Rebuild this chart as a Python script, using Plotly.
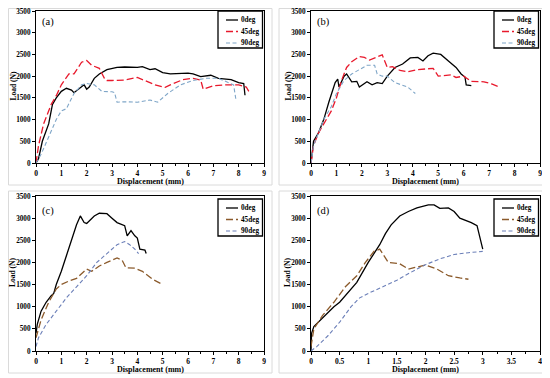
import plotly.graph_objects as go

# ---------------- data ----------------
# Panel (a)
a0_x = [0, 0.1, 0.25, 0.5, 0.6, 0.65, 0.8, 1.0, 1.2, 1.4, 1.5, 1.7, 1.9, 2.0, 2.1, 2.3, 2.5, 2.8, 3.0, 3.2, 3.5, 3.8, 4.0, 4.2, 4.5, 4.7, 5.0, 5.3, 6.0, 6.2, 6.5, 6.9, 7.2, 7.7, 8.0, 8.2, 8.25]
a0_y = [0, 100, 500, 900, 1200, 1350, 1500, 1650, 1720, 1680, 1620, 1700, 1800, 1700, 1750, 1950, 2050, 2150, 2170, 2200, 2210, 2200, 2200, 2220, 2150, 2170, 2080, 2050, 2070, 2050, 1990, 2020, 1950, 1920, 1850, 1830, 1560]
a45_x = [0, 0.1, 0.3, 0.5, 0.6, 0.8, 1.0, 1.3, 1.5, 1.8, 2.0, 2.2, 2.5, 2.7, 2.8, 3.0, 3.5, 4.0, 4.3, 4.7, 5.1, 5.3, 5.8, 6.2, 6.5, 6.6, 7.0, 7.5, 8.0, 8.3, 8.4]
a45_y = [0, 400, 900, 1200, 1350, 1550, 1800, 2050, 2050, 2320, 2360, 2250, 2180, 1950, 1900, 1900, 1910, 1970, 1900, 1800, 1740, 1800, 1920, 1950, 1910, 1700, 1780, 1800, 1800, 1750, 1650]
a90_x = [0, 0.2, 0.5, 0.8, 1.0, 1.2, 1.5, 1.8, 2.0, 2.3, 2.6, 3.0, 3.1, 3.2, 3.5, 4.0, 4.5, 4.8, 5.2, 5.7, 6.2, 6.7, 7.2, 7.8, 7.9]
a90_y = [0, 200, 600, 1000, 1200, 1250, 1600, 1800, 1830, 1800, 1650, 1640, 1620, 1400, 1410, 1400, 1450, 1400, 1600, 1800, 1900, 1950, 1950, 1800, 1430]

# Panel (b)
b0_x = [0, 0.1, 0.3, 0.5, 0.7, 0.8, 0.95, 1.05, 1.1, 1.3, 1.4, 1.6, 1.8, 1.9, 2.2, 2.4, 2.6, 2.8, 3.0, 3.3, 3.6, 3.9, 4.2, 4.4, 4.6, 4.8, 5.1, 5.4, 5.7, 5.9, 6.05, 6.1, 6.3]
b0_y = [0, 500, 700, 1000, 1400, 1600, 1850, 1930, 1750, 2000, 2050, 1870, 1880, 1750, 1870, 1800, 1850, 1830, 2000, 2200, 2280, 2420, 2430, 2350, 2470, 2530, 2500, 2350, 2200, 2050, 1980, 1800, 1780]
b45_x = [0, 0.1, 0.3, 0.6, 0.8, 1.0, 1.2, 1.4, 1.6, 1.9, 2.1, 2.3, 2.6, 2.8, 3.0, 3.2, 3.5, 3.8, 4.2, 4.6, 4.8, 5.0, 5.5, 5.7, 6.0, 6.3, 6.8, 7.1, 7.4]
b45_y = [0, 400, 700, 1000, 1200, 1500, 1900, 2200, 2330, 2450, 2430, 2370, 2450, 2490, 2200, 2220, 2130, 2100, 2150, 2170, 2180, 2000, 2030, 1970, 2000, 1880, 1870, 1820, 1750]
b90_x = [0, 0.1, 0.3, 0.5, 0.8, 1.0, 1.3, 1.6, 1.9, 2.2, 2.5, 2.6, 2.8, 3.0, 3.3, 3.8, 4.1]
b90_y = [0, 400, 700, 1000, 1300, 1600, 1900, 2050, 2150, 2250, 2250, 2050, 2000, 2000, 1850, 1750, 1600]

# Panel (c)
c0_x = [0, 0.05, 0.2, 0.4, 0.6, 0.7, 0.8, 1.0, 1.2, 1.4, 1.6, 1.75, 1.9, 2.0, 2.3, 2.5, 2.8, 3.0, 3.2, 3.5, 3.6, 3.75, 3.9, 4.0, 4.1, 4.3, 4.35]
c0_y = [400, 600, 900, 1100, 1250, 1300, 1500, 1800, 2150, 2500, 2850, 3050, 2900, 2880, 3050, 3110, 3100, 3000, 2900, 2830, 2600, 2720, 2600, 2550, 2300, 2280, 2200]
c45_x = [0, 0.2, 0.5, 0.8, 1.0, 1.3, 1.6, 1.8, 2.0, 2.2, 2.5, 2.8, 3.0, 3.2, 3.4, 3.55, 3.9, 4.2, 4.6, 5.0]
c45_y = [300, 700, 1100, 1400, 1500, 1580, 1640, 1750, 1850, 1800, 1920, 2000, 2050, 2100, 2050, 1880, 1870, 1800, 1620, 1500]
c90_x = [0, 0.1, 0.4, 0.8, 1.2, 1.6, 2.0, 2.4, 2.8, 3.2, 3.5, 3.7, 3.9, 4.05]
c90_y = [100, 300, 600, 900, 1200, 1450, 1700, 2000, 2200, 2400, 2470, 2400, 2300, 2200]

# Panel (d)
d0_x = [0, 0.01, 0.05, 0.2, 0.4, 0.5, 0.6, 0.8, 1.0, 1.1, 1.2, 1.3, 1.4, 1.55, 1.7, 1.85, 2.05, 2.15, 2.25, 2.4, 2.5, 2.6, 2.8, 2.9, 3.0]
d0_y = [0, 400, 550, 750, 1000, 1100, 1250, 1550, 2000, 2200, 2400, 2650, 2850, 3050, 3150, 3230, 3300, 3300, 3220, 3230, 3150, 3000, 2900, 2830, 2300]
d45_x = [0, 0.05, 0.2, 0.4, 0.6, 0.8, 0.95, 1.1, 1.2, 1.35, 1.55, 1.7, 1.8, 2.0, 2.2, 2.4, 2.6, 2.75]
d45_y = [100, 500, 800, 1100, 1450, 1700, 2000, 2250, 2300, 2000, 1970, 1850, 1880, 1940, 1850, 1700, 1650, 1620]
d90_x = [0, 0.1, 0.3, 0.5, 0.7, 0.85, 1.0, 1.25, 1.5, 1.75, 2.0, 2.25, 2.5, 2.75, 3.0]
d90_y = [0, 100, 350, 650, 1000, 1200, 1300, 1450, 1600, 1780, 1950, 2080, 2180, 2220, 2250]

series_names = ["0deg", "45deg", "90deg"]
panel_labels = ["(a)", "(b)", "(c)", "(d)"]
y_ticks = [0, 500, 1000, 1500, 2000, 2500, 3000, 3500]
x_ticks_wide = [0, 1, 2, 3, 4, 5, 6, 7, 8, 9]
x_ticks_d = [0, 0.5, 1, 1.5, 2, 2.5, 3, 3.5, 4]
x_title = "Displacement (mm)"
y_title = "Load (N)"

# ---------------- styling / layout helpers ----------------
FONT = "Liberation Serif"
BLACK = "#000000"
RED = "#E8192C"
LBLUE = "#7FA6C8"
BROWN = "#8B5A2B"
SBLUE = "#6B7FB8"

# the page body has an 8px default margin; the figure is sized to fit the window
OFF = 8
W, H = 550 - OFF, 378 - OFF


def fx(p):
    return (p - OFF) / W


def fy(p):
    return 1 - (p - OFF) / H


# plot-area boxes in window pixels: (left, top, right, bottom)
boxes = [(36, 11, 264, 163), (311, 11, 540, 163), (36, 196, 264, 351), (311, 196, 540, 351)]
frames = [(8.5, 8.5, 272, 185), (279, 8.5, 546, 185), (5, 191, 272, 373), (279, 191, 546, 373)]

panels = [
    dict(data=[(a0_x, a0_y), (a45_x, a45_y), (a90_x, a90_y)], colors=[BLACK, RED, LBLUE],
         xr=[0, 9], xt=x_ticks_wide, minor=0.5),
    dict(data=[(b0_x, b0_y), (b45_x, b45_y), (b90_x, b90_y)], colors=[BLACK, RED, LBLUE],
         xr=[0, 9], xt=x_ticks_wide, minor=0.5),
    dict(data=[(c0_x, c0_y), (c45_x, c45_y), (c90_x, c90_y)], colors=[BLACK, BROWN, SBLUE],
         xr=[0, 9], xt=x_ticks_wide, minor=0.5),
    dict(data=[(d0_x, d0_y), (d45_x, d45_y), (d90_x, d90_y)], colors=[BLACK, BROWN, SBLUE],
         xr=[0, 4], xt=x_ticks_d, minor=0.25),
]
dash_styles = ["solid", "7px,3px", "4px,2.5px"]
widths = [1.3, 1.3, 1.1]

fig = go.Figure()
layout = dict(width=W, height=H, margin=dict(l=0, r=0, t=0, b=0, autoexpand=False),
              paper_bgcolor="white", plot_bgcolor="white", shapes=[], annotations=[],
              showlegend=False)

for i, p in enumerate(panels):
    n = i + 1
    xa = "x" if n == 1 else f"x{n}"
    ya = "y" if n == 1 else f"y{n}"
    L, T, R, B = boxes[i]
    for k, ((xs, ys), col) in enumerate(zip(p["data"], p["colors"])):
        fig.add_trace(go.Scatter(x=xs, y=ys, mode="lines", name=series_names[k],
                                 line=dict(color=col, width=widths[k], dash=dash_styles[k]),
                                 xaxis=xa, yaxis=ya))
    axkey_x = "xaxis" if n == 1 else f"xaxis{n}"
    axkey_y = "yaxis" if n == 1 else f"yaxis{n}"
    layout[axkey_x] = dict(domain=[fx(L), fx(R)], anchor=ya, range=p["xr"], tickvals=p["xt"],
                           automargin=False, ticklabeloverflow="allow",
                           ticks="outside", ticklen=3, tickwidth=1, tickcolor="black",
                           showline=True, linecolor="black", linewidth=1, mirror=True,
                           showgrid=False, zeroline=False,
                           minor=dict(dtick=p["minor"], ticks="outside", ticklen=2, tickcolor="black"),
                           tickfont=dict(family=FONT, size=7.5, color="black", weight="bold"))
    layout[axkey_y] = dict(domain=[fy(B), fy(T)], anchor=xa, range=[0, 3500], tickvals=y_ticks,
                           automargin=False, ticklabeloverflow="allow",
                           ticks="outside", ticklen=3, tickwidth=1, tickcolor="black",
                           showline=True, linecolor="black", linewidth=1, mirror=True,
                           showgrid=False, zeroline=False,
                           tickfont=dict(family=FONT, size=7.2, color="black", weight="bold"))
    # axis titles
    layout["annotations"].append(dict(text=f"<b>{x_title}</b>", xref="paper", yref="paper",
                                      x=fx((L + R) / 2), y=fy(B + 18.5), xanchor="center", yanchor="middle",
                                      showarrow=False, font=dict(family=FONT, size=8, color="black")))
    layout["annotations"].append(dict(text=f"<b>{y_title}</b>", xref="paper", yref="paper",
                                      x=fx(L - 23.5), y=fy((T + B) / 2 - 1), xanchor="center", yanchor="middle",
                                      textangle=-90, showarrow=False,
                                      font=dict(family=FONT, size=7.5, color="black")))
    # panel label
    layout["annotations"].append(dict(text=panel_labels[i], xref="paper", yref="paper",
                                      x=fx(L + 4), y=fy(T + 11 if i < 2 else T + 15), xanchor="left",
                                      yanchor="middle", showarrow=False,
                                      font=dict(family=FONT, size=10.5, color="black")))
    # legend box
    lt = T + 3 if i >= 2 else T
    layout["shapes"].append(dict(type="rect", xref="paper", yref="paper",
                                 x0=fx(R - 46), x1=fx(R - 1.5), y0=fy(lt + 37), y1=fy(lt),
                                 line=dict(color="black", width=1.3), fillcolor="white"))
    for k in range(3):
        ry = lt + 9 + k * 11.5
        layout["shapes"].append(dict(type="line", xref="paper", yref="paper",
                                     x0=fx(R - 38), x1=fx(R - 26), y0=fy(ry), y1=fy(ry),
                                     line=dict(color=p["colors"][k], width=widths[k], dash=dash_styles[k])))
        layout["annotations"].append(dict(text=f"<b>{series_names[k]}</b>", xref="paper", yref="paper",
                                          x=fx(R - 25), y=fy(ry), xanchor="left", yanchor="middle",
                                          showarrow=False, font=dict(family=FONT, size=7.2, color="black")))
    # light frame around each panel
    x0, y0, x1, y1 = frames[i]
    layout["shapes"].append(dict(type="rect", xref="paper", yref="paper",
                                 x0=fx(max(x0, OFF + 0.5)), x1=fx(x1), y0=fy(y1), y1=fy(max(y0, OFF + 0.5)),
                                 line=dict(color="#DADADA", width=1), layer="below"))

fig.update_layout(**layout)
fig.write_html("out.html")
